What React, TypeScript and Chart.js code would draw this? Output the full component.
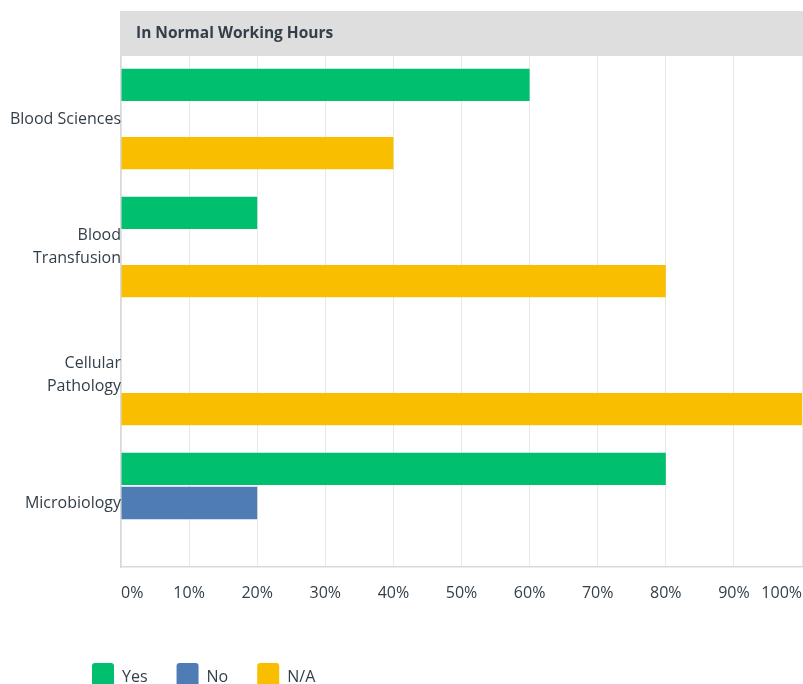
import { useEffect, useRef } from "react";
import { Chart, registerables } from "chart.js";

Chart.register(...registerables);

const categories: (string | string[])[] = [
  "Blood Sciences",
  ["Blood", "Transfusion"],
  ["Cellular", "Pathology"],
  "Microbiology",
];
const seriesNames = ["Yes", "No", "N/A"];
const yesValues = [60, 20, 0, 80];
const noValues = [0, 0, 0, 20];
const naValues = [40, 80, 100, 0];
const xTickValues = [0, 10, 20, 30, 40, 50, 60, 70, 80, 90, 100];
const headerTitle = "In Normal Working Hours";

const FONT = '"Open Sans", "Noto Sans", sans-serif';
const TEXT = "#333e48";

const headerPlugin = {
  id: "headerBand",
  afterLayout(chart: any) {
    if (chart.legend) {
      chart.legend.left = 63;
    }
  },
  afterDraw(chart: any) {
    const { ctx, chartArea } = chart;
    ctx.save();
    ctx.fillStyle = "#dedede";
    ctx.fillRect(chartArea.left - 1, 11, chartArea.right - chartArea.left + 2, chartArea.top + 1 - 11);
    ctx.fillStyle = TEXT;
    ctx.font = `bold 15.5px ${FONT}`;
    ctx.textBaseline = "middle";
    ctx.textAlign = "left";
    ctx.fillText(headerTitle, chartArea.left + 15, 34);
    ctx.restore();
  },
};

export default function App() {
  const ref = useRef<HTMLCanvasElement>(null);
  useEffect(() => {
    if (!ref.current) return;
    const chart = new Chart(ref.current, {
      type: "bar",
      data: {
        labels: categories,
        datasets: [
          { label: seriesNames[0], data: yesValues, backgroundColor: "#00bf6f" },
          { label: seriesNames[1], data: noValues, backgroundColor: "#507cb6" },
          { label: seriesNames[2], data: naValues, backgroundColor: "#f9be00" },
        ],
      },
      options: {
        indexAxis: "y",
        responsive: false,
        animation: false,
        datasets: { bar: { barPercentage: 0.95, categoryPercentage: 0.8, borderWidth: 0 } },
        layout: { padding: { left: 0, right: 1, top: 55, bottom: 0 } },
        scales: {
          x: {
            min: 0,
            max: 100,
            afterBuildTicks: (s: any) => {
              s.ticks = xTickValues.map((v) => ({ value: v }));
            },
            afterFit: (s: any) => {
              s.height = 67;
            },
            ticks: {
              callback: (v: any) => v + "%",
              align: "inner",
              font: { family: FONT, size: 16 },
              color: TEXT,
              padding: 0,
              maxRotation: 0,
            },
            grid: { color: "#e8e8e8", drawTicks: true, tickLength: 17, tickColor: "rgba(0,0,0,0)" },
            border: { color: "#d9d9d9", width: 1.5 },
          },
          y: {
            afterFit: (s: any) => {
              s.width = 121;
            },
            ticks: {
              font: { family: FONT, size: 16, lineHeight: 1.45 },
              color: TEXT,
              padding: 0,
            },
            grid: { display: false, drawTicks: false },
            border: { color: "#d9d9d9", width: 1.5 },
          },
        },
        plugins: {
          legend: {
            position: "bottom",
            align: "start",
            labels: {
              boxWidth: 22,
              boxHeight: 28,
              padding: 29,
              font: { family: FONT, size: 16 },
              color: TEXT,
              useBorderRadius: true,
              borderRadius: 3,
            },
          },
          tooltip: { enabled: false },
        },
      },
      plugins: [headerPlugin],
    } as any);
    return () => chart.destroy();
  }, []);

  return (
    <div style={{ position: "fixed", left: 0, top: 0, width: 803, height: 684, overflow: "hidden", background: "#fff" }}>
      <canvas ref={ref} width={803} height={701} style={{ display: "block" }} />
    </div>
  );
}
